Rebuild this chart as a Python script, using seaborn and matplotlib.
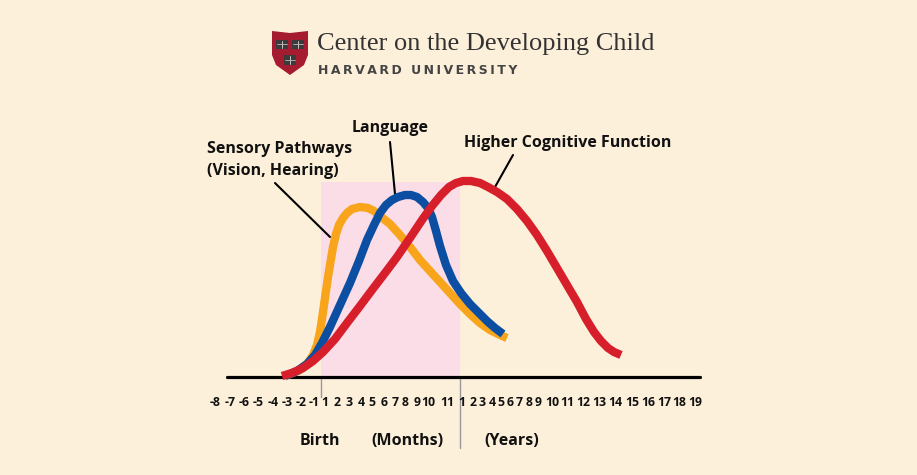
import numpy as np
import pandas as pd
import seaborn as sns
import matplotlib.pyplot as plt
from matplotlib.patches import Polygon, Rectangle

# timeline tick labels and their position along the drawn axis
month_before = ["-8", "-7", "-6", "-5", "-4", "-3", "-2", "-1"]
month_after = ["1", "2", "3", "4", "5", "6", "7", "8", "9", "10", "11"]
years = [str(i) for i in range(1, 20)]
tick_labels = month_before + month_after + years
tick_x = [215, 230, 244, 258, 273, 287, 301, 314,
          325, 337, 349, 361, 372, 384, 395, 405, 417, 428, 447,
          462, 473, 482, 492, 501, 510, 519, 529, 538, 552, 567, 583, 599,
          615, 632, 648, 664, 679, 695]

# curves (x along timeline, relative intensity)
sensory_x = [285, 300, 308, 313, 317, 320, 322, 324, 326, 328, 331, 333, 336, 339, 343,
             347, 352, 360, 368, 374, 380, 390, 400, 410, 420, 430, 440, 450, 460, 470,
             480, 490, 500, 507]
sensory_y = [1, 7, 14, 22, 32, 45, 58, 72, 86, 100, 118, 130, 143, 152, 159,
             164, 168, 170, 169, 166, 161, 153, 142, 130, 117, 106, 95, 84, 73, 63,
             54, 47, 42, 39]

language_x = [285, 297, 307, 315, 322, 330, 340, 350, 359, 367, 374, 380, 386, 392,
              398, 405, 411, 417, 423, 428, 432, 436, 440, 446, 453, 461, 470, 479,
              487, 495, 503]
language_y = [1, 6, 13, 22, 34, 50, 72, 94, 116, 137, 152, 164, 172, 177,
              180, 182, 182, 180, 175, 169, 160, 146, 131, 112, 96, 84, 73, 64,
              56, 49, 43]

cognitive_x = [282, 292, 303, 313, 323, 335, 347, 360, 372, 385, 397, 410, 422, 432,
               441, 449, 456, 463, 471, 480, 488, 497, 507, 517, 527, 537, 547, 557,
               567, 577, 586, 594, 601, 608, 614, 621]
cognitive_y = [1, 4, 9, 16, 25, 38, 54, 71, 87, 104, 120, 139, 157, 171,
               182, 190, 194, 196, 196, 194, 190, 185, 178, 168, 156, 142, 126, 109,
               92, 75, 58, 45, 36, 29, 25, 22]

series = ["Sensory", "Language", "Higher Cognitive Function"]
colors = ["#F8A51C", "#0B4EA2", "#D71F2B"]

birth_x = 321
year_x = 460
span_top = 195

df = pd.concat([
    pd.DataFrame({"x": sensory_x, "y": sensory_y, "series": series[0]}),
    pd.DataFrame({"x": language_x, "y": language_y, "series": series[1]}),
    pd.DataFrame({"x": cognitive_x, "y": cognitive_y, "series": series[2]}),
])

sns.set_theme(style="white")
plt.rcParams["font.family"] = ["Open Sans", "DejaVu Sans"]

bg = "#FDF0DA"
fig = plt.figure(figsize=(9.17, 4.75), dpi=100, facecolor=bg)
ax = fig.add_axes([0, 0, 1, 1])
ax.set_facecolor(bg)
ax.set_xlim(0, 917)
ax.set_ylim(-98, 377)
ax.axis("off")

# pink band for the first year
ax.add_patch(Rectangle((birth_x, 0), year_x - birth_x, span_top, color="#FBDDE8", lw=0, zorder=0))

sns.lineplot(data=df, x="x", y="y", hue="series", hue_order=series, palette=colors,
             sort=False, estimator=None, legend=False, linewidth=6,
             ax=ax, zorder=3)
for line in ax.get_lines():
    line.set_solid_capstyle("butt")
    line.set_solid_joinstyle("round")

# baseline and markers
ax.plot([227, 700], [0, 0], color="black", lw=2.3, zorder=2)
ax.plot([birth_x, birth_x], [0, -20], color="#999999", lw=1, zorder=1)
ax.plot([year_x, year_x], [0, -71], color="#999999", lw=1, zorder=1)

txt = "#111111"
for lab, x in zip(tick_labels, tick_x):
    ax.text(x, -26, lab, ha="center", va="center", fontsize=8.8, fontweight="bold", color=txt)

for lab, x in [("Birth", 320), ("(Months)", 407), ("(Years)", 512)]:
    ax.text(x, -64, lab, ha="center", va="center", fontsize=11.5, fontweight="bold", color=txt)

# curve labels with leader lines
lab_kw = dict(va="center", fontsize=11.5, fontweight="bold", color=txt)
ax.text(207, 228, "Sensory Pathways", ha="left", **lab_kw)
ax.text(207, 206, "(Vision, Hearing)", ha="left", **lab_kw)
ax.text(390, 249, "Language", ha="center", **lab_kw)
ax.text(464, 234, "Higher Cognitive Function", ha="left", **lab_kw)
ax.plot([275, 330], [194, 140], color="black", lw=1.5, zorder=2)
ax.plot([390, 395], [235, 183], color="black", lw=1.5, zorder=2)
ax.plot([513, 495], [222, 190], color="black", lw=1.5, zorder=2)

# header logo
shield = Polygon([(272, 346), (290, 344), (308, 346), (308, 322), (304, 312),
                  (290, 302), (276, 312), (272, 322)], closed=True,
                 facecolor="#A51C30", edgecolor="none", zorder=4)
ax.add_patch(shield)
for bx, by in [(275.5, 328), (291.5, 328), (283.5, 312.5)]:
    ax.add_patch(Rectangle((bx, by), 12.5, 9.5, facecolor="#3b3b3b", edgecolor="none", zorder=5))
    ax.plot([bx + 6.25, bx + 6.25], [by + 1, by + 8.5], color="#dddddd", lw=0.6, zorder=6)
    ax.plot([bx + 1.5, bx + 11], [by + 4.75, by + 4.75], color="#bbbbbb", lw=0.6, zorder=6)

ax.text(317, 333, "Center on the Developing Child", ha="left", va="center",
        fontsize=19, family="Liberation Serif", color="#333333")
ax.text(318, 307, "\u2009".join("HARVARD UNIVERSITY"), ha="left", va="center",
        fontsize=9, family="DejaVu Sans", fontweight="bold", color="#444444")

fig.savefig("out.png", dpi=100, facecolor=bg)
